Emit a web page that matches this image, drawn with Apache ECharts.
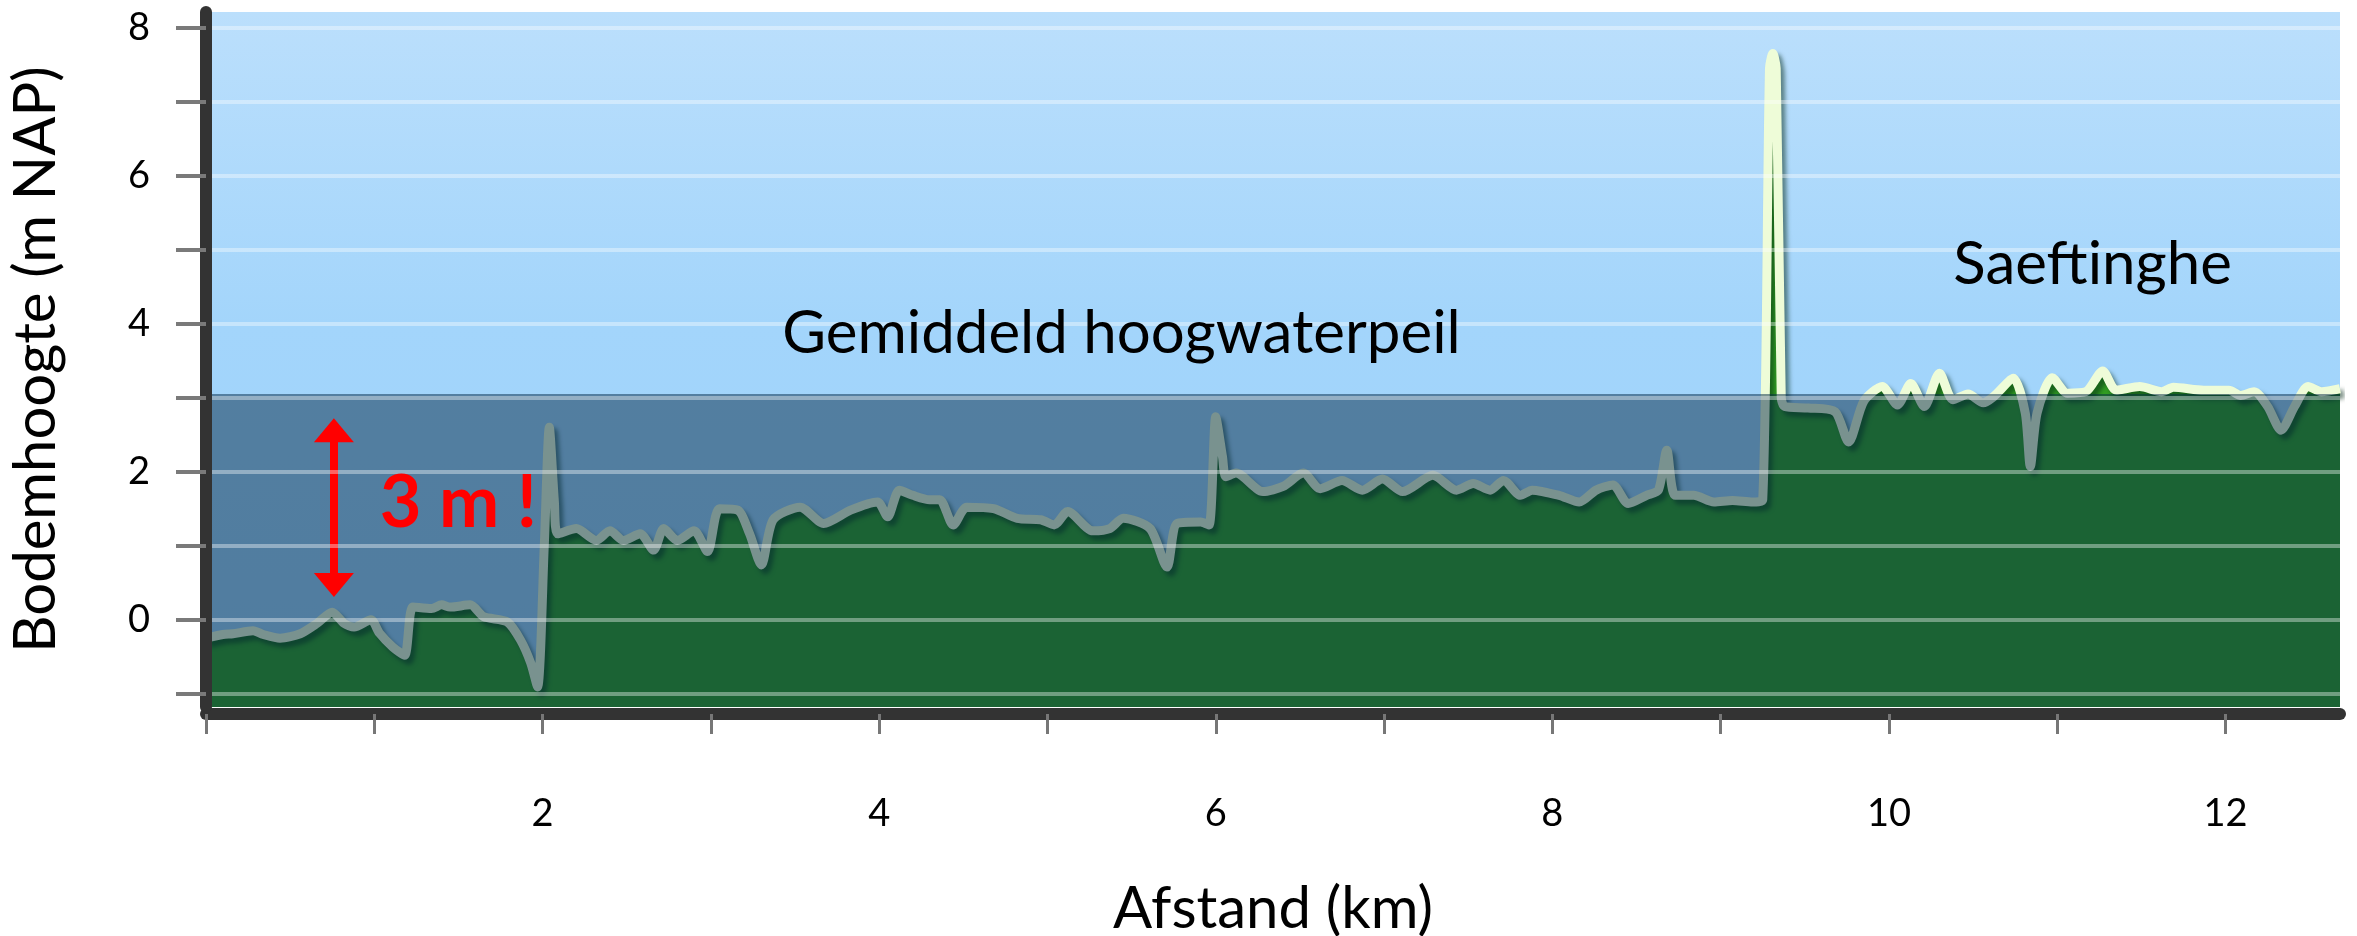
<!DOCTYPE html>
<html>
<head>
<meta charset="utf-8">
<script src="https://cdn.jsdelivr.net/npm/echarts@6/dist/echarts.min.js"></script>
<style>
  html, body { margin: 0; padding: 0; background: #fff; }
  #main { width: 2357px; height: 936px; }
</style>
</head>
<body>
<div id="main"></div>
<script>
// afstand langs het profiel (km)
const afstand = [
  0.00, 0.10, 0.16, 0.28, 0.34, 0.44, 0.56, 0.66, 0.75, 0.82, 0.88, 0.98,
  1.03, 1.11, 1.18, 1.23, 1.34, 1.40, 1.45, 1.57, 1.65, 1.79, 1.87, 1.93, 1.97,
  2.01, 2.04, 2.07, 2.09, 2.20, 2.32, 2.40, 2.48, 2.58, 2.66, 2.72, 2.80, 2.90, 2.98,
  3.05, 3.16, 3.23, 3.30, 3.37, 3.53, 3.67, 3.83, 3.99,
  4.05, 4.12, 4.20, 4.30, 4.36, 4.44, 4.52, 4.68, 4.82, 4.96,
  5.04, 5.12, 5.27, 5.37, 5.45, 5.61, 5.71, 5.77, 5.91, 5.96,
  6.00, 6.04, 6.06, 6.12, 6.28, 6.40, 6.52, 6.62, 6.75, 6.87, 6.99,
  7.11, 7.29, 7.43, 7.53, 7.63, 7.71, 7.81, 7.88,
  8.04, 8.16, 8.26, 8.36, 8.45, 8.56, 8.63, 8.68, 8.73, 8.84, 8.96,
  9.07, 9.19, 9.25, 9.29, 9.31, 9.33, 9.36, 9.38, 9.52, 9.68, 9.76, 9.85, 9.96,
  10.05, 10.13, 10.21, 10.30, 10.38, 10.47, 10.56, 10.62, 10.74, 10.81, 10.84, 10.88, 10.97,
  11.06, 11.17, 11.27, 11.35, 11.49, 11.62, 11.69, 11.87,
  12.02, 12.09, 12.17, 12.25, 12.33, 12.41, 12.49, 12.57, 12.68
];
// bodemhoogte (m NAP)
const hoogte = [
  -0.25, -0.20, -0.19, -0.15, -0.20, -0.25, -0.19, -0.05, 0.10, -0.05, -0.10, 0.00,
  -0.18, -0.37, -0.48, 0.17, 0.15, 0.20, 0.17, 0.20, 0.04, -0.03, -0.28, -0.59, -0.91,
  1.00, 2.60, 1.60, 1.16, 1.23, 1.07, 1.20, 1.07, 1.16, 0.94, 1.23, 1.07, 1.20, 0.92,
  1.50, 1.48, 1.16, 0.74, 1.35, 1.52, 1.30, 1.48, 1.59,
  1.39, 1.75, 1.68, 1.62, 1.62, 1.28, 1.52, 1.50, 1.37, 1.35,
  1.28, 1.46, 1.20, 1.23, 1.37, 1.23, 0.71, 1.30, 1.32, 1.28,
  2.74, 2.20, 1.93, 1.98, 1.73, 1.80, 1.98, 1.77, 1.88, 1.75, 1.90,
  1.73, 1.95, 1.75, 1.84, 1.75, 1.88, 1.68, 1.75,
  1.68, 1.59, 1.75, 1.82, 1.57, 1.68, 1.75, 2.29, 1.68, 1.68, 1.59,
  1.61, 1.59, 1.62, 7.45, 7.65, 7.45, 3.00, 2.88, 2.86, 2.81, 2.40, 2.95, 3.15,
  2.90, 3.19, 2.88, 3.33, 2.97, 3.05, 2.93, 3.01, 3.26, 2.79, 2.07, 2.79, 3.27,
  3.06, 3.08, 3.36, 3.10, 3.15, 3.08, 3.14, 3.10,
  3.10, 3.03, 3.08, 2.88, 2.56, 2.88, 3.15, 3.08, 3.12
];
// gemiddeld hoogwaterpeil (m NAP)
const ghw = 3.05;
const xMax = 12.68;
const yTicks = [-1, 0, 1, 2, 3, 4, 5, 6, 7, 8];
const yLabels = [0, 2, 4, 6, 8];
const xTicks = [0, 1, 2, 3, 4, 5, 6, 7, 8, 9, 10, 11, 12];
const xLabels = [2, 4, 6, 8, 10, 12];

const font = "Lato, 'Open Sans', sans-serif";

const profiel = afstand.map((x, i) => [x, hoogte[i]]);

const option = {
  animation: false,
  backgroundColor: "#ffffff",
  grid: {
    left: 206,
    right: 17,
    top: 12,
    bottom: 229,
    outerBoundsMode: "none",
    containLabel: false,
    show: true,
    borderWidth: 0,
    backgroundColor: {
      type: "linear",
      x: 0, y: 0, x2: 0, y2: 1,
      colorStops: [
        { offset: 0, color: "#bbdffc" },
        { offset: 0.45, color: "#a3d5fb" },
        { offset: 1, color: "#9cd2fb" },
      ],
    },
  },
  xAxis: {
    type: "value",
    min: 0,
    max: xMax,
    offset: 7,
    name: "Afstand (km)",
    nameLocation: "middle",
    nameGap: 166,
    nameTextStyle: { fontFamily: font, fontSize: 58, color: "#000" },
    axisLine: { onZero: false, lineStyle: { color: "#333", width: 12 } },
    axisTick: {
      customValues: xTicks,
      length: 20,
      lineStyle: { color: "#777", width: 3 },
    },
    axisLabel: {
      customValues: xLabels,
      margin: 81,
      fontFamily: font,
      fontSize: 38,
      color: "#000",
    },
    splitLine: { show: false },
  },
  yAxis: {
    type: "value",
    min: -1.18,
    max: 8.21,
    z: 6,
    name: "Bodemhoogte (m NAP)",
    nameLocation: "middle",
    nameGap: 141,
    nameTextStyle: { fontFamily: font, fontSize: 58, color: "#000" },
    axisLine: { show: true, lineStyle: { color: "#333", width: 12 } },
    axisTick: {
      customValues: yTicks,
      length: 30,
      lineStyle: { color: "#7a7a7a", width: 4 },
    },
    axisLabel: {
      customValues: yLabels,
      margin: 56,
      fontFamily: font,
      fontSize: 38,
      color: "#000",
    },
    splitLine: {
      show: true,
      lineStyle: { color: "rgba(255,255,255,0.38)", width: 4 },
    },
  },
  series: [
    {
      name: "Bodemhoogte",
      type: "line",
      data: profiel,
      smooth: 0.25,
      symbol: "none",
      z: 2,
      lineStyle: {
        color: "#eefcd8",
        width: 9,
        shadowColor: "rgba(0,40,20,0.5)",
        shadowBlur: 4,
        shadowOffsetX: 4,
        shadowOffsetY: 5,
      },
      areaStyle: { color: "#329e23", opacity: 1, origin: "start" },
    },
    {
      name: "Gemiddeld hoogwaterpeil",
      type: "line",
      data: [[0, ghw], [xMax, ghw]],
      symbol: "none",
      z: 4,
      lineStyle: { width: 0 },
      areaStyle: { color: "rgba(4,40,69,0.5)", opacity: 1, origin: "start" },
      markLine: {
        silent: true,
        symbol: ["triangle", "triangle"],
        symbolSize: [40, 24],
        label: { show: false },
        lineStyle: { color: "#ff0000", width: 8, type: "solid" },
        data: [[{ coord: [0.76, 0.47] }, { coord: [0.76, 2.56] }]],
      },
    },
  ],
};

const chart = echarts.init(document.getElementById("main"));
chart.setOption(option);

const px = (x, y) => chart.convertToPixel({ gridIndex: 0 }, [x, y]);
const label = (text, pos, style) => ({
  type: "text",
  x: pos[0],
  y: pos[1],
  z: 20,
  style: Object.assign(
    {
      text: text,
      fontFamily: font,
      fontSize: 60,
      fill: "#000",
      align: "center",
      verticalAlign: "middle",
    },
    style || {}
  ),
});

chart.setOption({
  graphic: [
    label("Gemiddeld hoogwaterpeil", px(5.44, 3.86)),
    label("Saeftinghe", px(11.21, 4.79)),
    label("3 m !", px(1.5, 1.56), { fill: "#ff0000", fontWeight: "bold", fontSize: 72 }),
  ],
});
</script>
</body>
</html>
